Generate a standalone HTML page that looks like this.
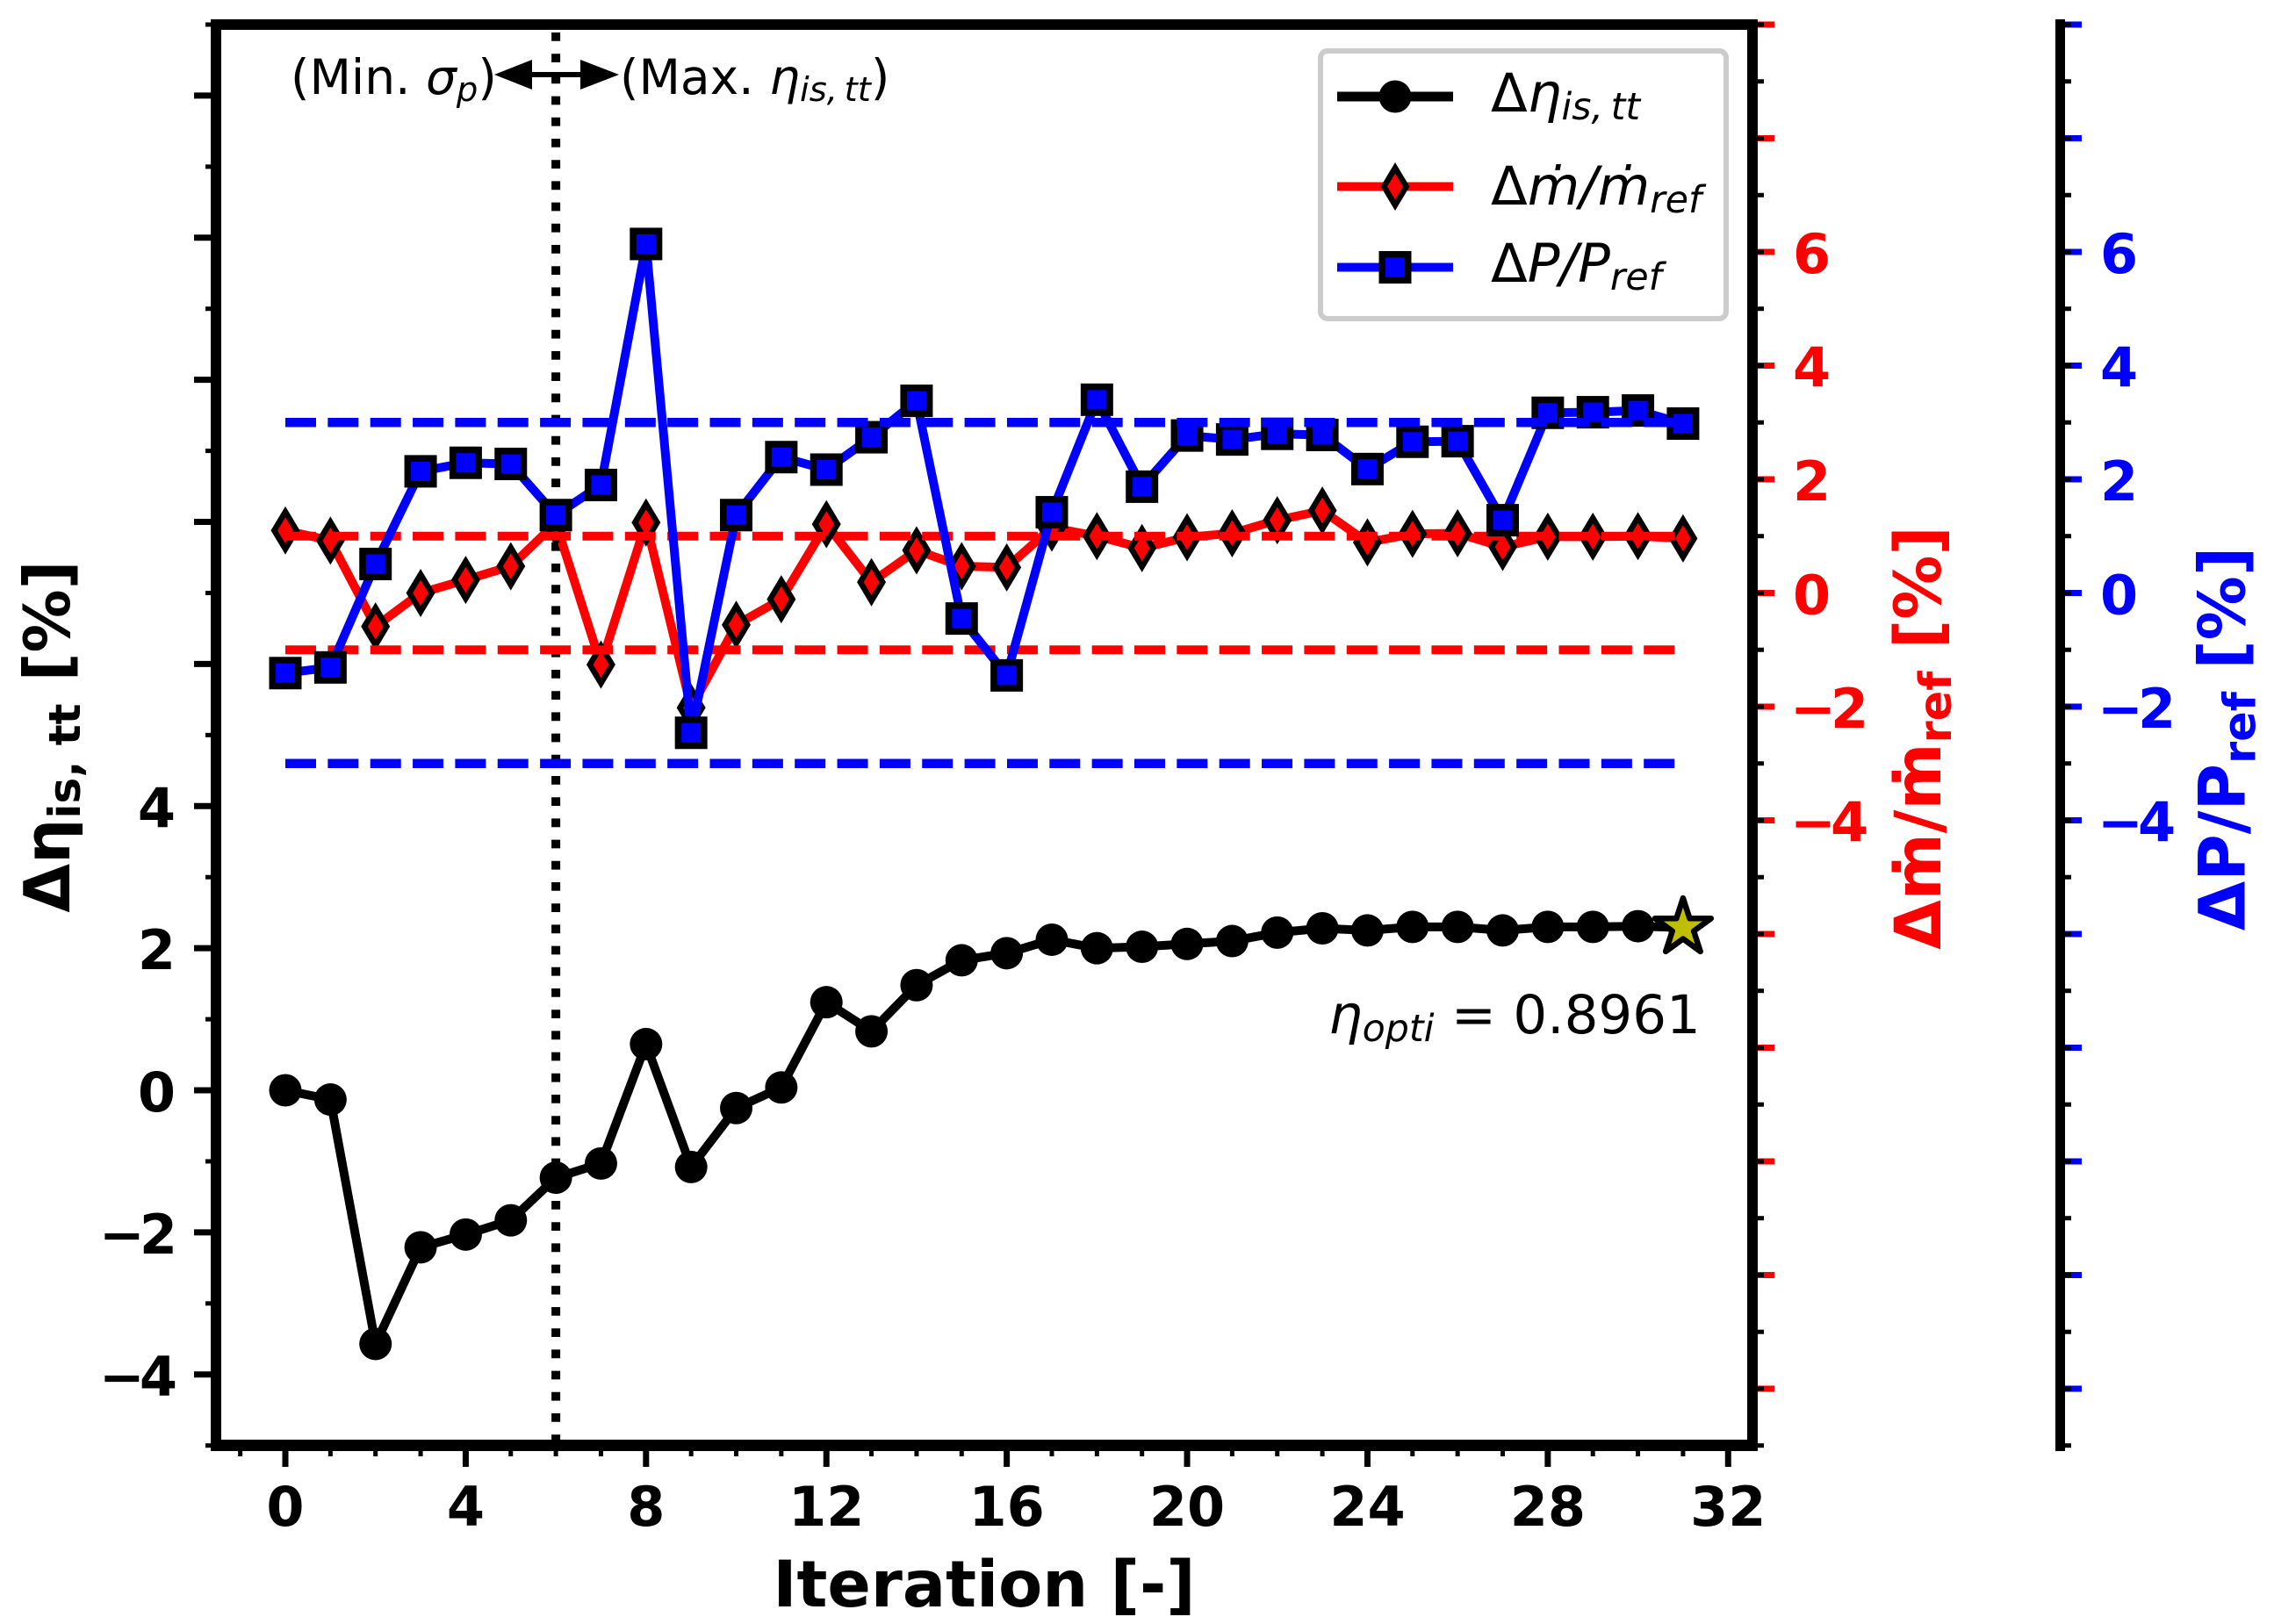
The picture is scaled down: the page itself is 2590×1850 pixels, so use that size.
<!DOCTYPE html>
<html lang="en">
<head>
<meta charset="utf-8">
<title>Optimisation history</title>
<style>
html,body{margin:0;padding:0;background:#fff;}
svg{display:block;}
text{font-family:"DejaVu Sans","Liberation Sans",sans-serif;white-space:pre;}
.b{font-weight:bold;}
.i{font-style:italic;}
</style>
</head>
<body>
<svg id="chart" xmlns="http://www.w3.org/2000/svg" width="2590" height="1850" viewBox="0 0 2590 1850">
  <rect x="0" y="0" width="2590" height="1850" fill="#ffffff"/>
  <g id="ticks"></g>
  <g id="plot"></g>
  <g id="spines">
    <rect x="240" y="22" width="12" height="1631" fill="#000"/>
    <rect x="240" y="22" width="1762" height="12" fill="#000"/>
    <rect x="240" y="1640" width="1762" height="13" fill="#000"/>
    <rect x="1990" y="22" width="12" height="1631" fill="#000"/>
    <rect x="2341" y="22" width="11" height="1631" fill="#000"/>
  </g>

  <text class="b" x="1121" y="1830" font-size="73" text-anchor="middle" fill="#000">Iteration [-]</text>
  <text class="b" transform="translate(79,839) rotate(-90)" font-size="72" text-anchor="middle" fill="#000">Δη<tspan font-size="50" dy="12">is, tt</tspan><tspan dy="-12"> [%]</tspan></text>
  <text class="b" transform="translate(2210,840.5) rotate(-90)" font-size="73" text-anchor="middle" fill="#ff0000">Δṁ/ṁ<tspan font-size="51" dy="12">ref</tspan><tspan dy="-12"> [%]</tspan></text>
  <text class="b" transform="translate(2556.5,841.5) rotate(-90)" font-size="73" text-anchor="middle" fill="#0000ff">ΔP/P<tspan font-size="51" dy="12">ref</tspan><tspan dy="-12"> [%]</tspan></text>

  <text x="331" y="107" font-size="55" fill="#000">(Min. <tspan class="i">σ</tspan><tspan class="i" font-size="38.5" dy="8">p</tspan><tspan dy="-8">)</tspan></text>
  <text x="706" y="107" font-size="55" fill="#000">(Max. <tspan class="i">η</tspan><tspan class="i" font-size="38.5" dy="8">is,&#8201;tt</tspan><tspan dy="-8">)</tspan></text>
  <g>
    <rect x="600" y="82" width="68" height="6" fill="#000"/>
    <polygon points="563,85 606,68 606,102" fill="#000"/>
    <polygon points="705,85 661,68 661,102" fill="#000"/>
  </g>
  <text x="1513" y="1177" font-size="61" fill="#000"><tspan class="i">η</tspan><tspan class="i" font-size="42.7" dy="9">opti</tspan><tspan dy="-9"> = 0.8961</tspan></text>

  <g>
    <rect x="1504" y="58" width="462" height="305" rx="8" ry="8" fill="#ffffff" stroke="#cccccc" stroke-width="6"/>
    <g>
      <line x1="1523" x2="1655" y1="110" y2="110" stroke="#000" stroke-width="11"/>
      <circle cx="1589" cy="110" r="18.5" fill="#000"/>
      <text x="1698" y="127" font-size="61" fill="#000">Δ<tspan class="i">η</tspan><tspan class="i" font-size="42.7" dy="9">is,&#8201;tt</tspan></text>
    </g>
    <g>
      <line x1="1523" x2="1655" y1="212.5" y2="212.5" stroke="#ff0000" stroke-width="10"/>
      <polygon points="1589,191.3 1601.7,212.5 1589,233.7 1576.3,212.5" fill="#ff0000" stroke="#000" stroke-width="6.5" stroke-miterlimit="20"/>
      <text x="1698" y="233" font-size="61" fill="#000">Δ<tspan class="i">ṁ/ṁ</tspan><tspan class="i" font-size="42.7" dy="9">ref</tspan></text>
    </g>
    <g>
      <line x1="1523" x2="1655" y1="304.5" y2="304.5" stroke="#0000ff" stroke-width="10"/>
      <rect x="1574.25" y="289.75" width="29.5" height="29.5" fill="#0000ff" stroke="#000" stroke-width="7.5"/>
      <text x="1698" y="321" font-size="61" fill="#000">Δ<tspan class="i">P/P</tspan><tspan class="i" font-size="42.7" dy="9">ref</tspan></text>
    </g>
  </g>
</svg>

<script>
// Chart data
const iterations = [0,1,2,3,4,5,6,7,8,9,10,11,12,13,14,15,16,17,18,19,20,21,22,23,24,25,26,27,28,29,30,31];
const efficiencySeries = [0,-0.13,-3.57,-2.21,-2.03,-1.83,-1.23,-1.03,0.65,-1.08,-0.25,0.04,1.24,0.83,1.48,1.83,1.93,2.12,2.0,2.02,2.06,2.1,2.22,2.28,2.25,2.3,2.3,2.25,2.3,2.3,2.31];
const massFlowSeries = [1.10,0.92,-0.59,0.0,0.23,0.47,1.23,-1.26,1.24,-2.02,-0.56,-0.11,1.21,0.19,0.75,0.47,0.45,1.15,1.0,0.79,0.98,1.05,1.28,1.45,0.89,1.04,1.05,0.81,0.99,0.99,1.0,0.96];
const powerSeries = [-1.41,-1.31,0.51,2.14,2.29,2.27,1.37,1.9,6.14,-2.46,1.37,2.39,2.17,2.74,3.38,-0.45,-1.45,1.42,3.4,1.87,2.77,2.7,2.8,2.78,2.18,2.66,2.67,1.28,3.17,3.18,3.21,2.98];
const optimumPoint = [31, 2.29];
const massFlowLimits = [1, -1];
const powerLimits = [3, -3];
const limitRange = [0, 31];
const switchIteration = 6;

// Axis ticks and labels
const xMajorTicks = [0,4,8,12,16,20,24,28,32];
const xMinorTicks = [-1,0,1,2,3,4,5,6,7,8,9,10,11,12,13,14,15,16,17,18,19,20,21,22,23,24,25,26,27,28,29,30,31,32];
const leftMajorTicks = [-4,-2,0,2,4,6,8,10,12,14];
const leftMinorTicks = [-5,-3,-1,1,3,5,7,9,11,13,15];
const leftTickLabels = [-4,-2,0,2,4];
const rightMajorTicks = [-14,-12,-10,-8,-6,-4,-2,0,2,4,6,8,10];
const rightMinorTicks = [-15,-14,-13,-12,-11,-10,-9,-8,-7,-6,-5,-4,-3,-2,-1,0,1,2,3,4,5,6,7,8,9,10];
const rightTickLabels = [-4,-2,0,2,4,6];

// Axis functions
const xDomain = [-1.5385, 32.54];
const xPixels = [246, 1996];
const leftDomain = [-5, 15];
const rightDomain = [-15, 10];
const yPixels = [1646.7, 28];
function xAxis(v){ return xPixels[0] + (v - xDomain[0]) * (xPixels[1] - xPixels[0]) / (xDomain[1] - xDomain[0]); }
function yLeft(v){ return yPixels[0] + (v - leftDomain[0]) * (yPixels[1] - yPixels[0]) / (leftDomain[1] - leftDomain[0]); }
function yRight(v){ return yPixels[0] + (v - rightDomain[0]) * (yPixels[1] - yPixels[0]) / (rightDomain[1] - rightDomain[0]); }

const NS = 'http://www.w3.org/2000/svg';
function make(parent, tag, attrs){
  const el = document.createElementNS(NS, tag);
  for (const k in attrs) el.setAttribute(k, attrs[k]);
  parent.appendChild(el);
  return el;
}
function fmt(v){ return String(v).replace('-', '\u2212'); }
function pointsOf(xs, ys, yFn){
  const out = [];
  for (let i = 0; i < ys.length; i++) out.push(xAxis(xs[i]).toFixed(2) + ',' + yFn(ys[i]).toFixed(2));
  return out.join(' ');
}

const ticks = document.getElementById('ticks');
const plot = document.getElementById('plot');

// x ticks
xMajorTicks.forEach(function(v){
  const t = make(ticks, 'line', {x1:xAxis(v), x2:xAxis(v), y1:1650, y2:1671, stroke:'#000', 'stroke-width':7});
  
  
  const l = make(ticks, 'text', {x:xAxis(v), y:1738, 'font-size':62, 'font-weight':'bold', 'text-anchor':'middle', fill:'#000'});
  
  
  l.textContent = fmt(v);
});
xMinorTicks.forEach(function(v){
  const t = make(ticks, 'line', {x1:xAxis(v), x2:xAxis(v), y1:1650, y2:1659, stroke:'#000', 'stroke-width':5});
  
  
});

// left y ticks
leftMajorTicks.forEach(function(v){
  const t = make(ticks, 'line', {x1:221, x2:245, y1:yLeft(v), y2:yLeft(v), stroke:'#000', 'stroke-width':7});
  
  
});
leftMinorTicks.forEach(function(v){
  const t = make(ticks, 'line', {x1:234, x2:245, y1:yLeft(v), y2:yLeft(v), stroke:'#000', 'stroke-width':5});
  
  
});
leftTickLabels.forEach(function(v){
  const l = make(ticks, 'text', {x:v < 0 ? 196 : 200, y:yLeft(v) + 24, 'font-size':62, 'font-weight':'bold', 'text-anchor':'end', fill:'#000', 'letter-spacing':v < 0 ? -6 : 0});
  
  
  l.textContent = fmt(v);
});

// mass-flow axis ticks
rightMajorTicks.forEach(function(v){
  const t = make(ticks, 'line', {x1:1998, x2:2021, y1:yRight(v), y2:yRight(v), stroke:'#ff0000', 'stroke-width':7});
  
  
});
rightMinorTicks.forEach(function(v){
  const t = make(ticks, 'line', {x1:1998, x2:2009, y1:yRight(v), y2:yRight(v), stroke:'#000', 'stroke-width':5});
  
  
});
rightTickLabels.forEach(function(v){
  const l = make(ticks, 'text', {x:v < 0 ? 2039 : 2042, y:yRight(v) + 24, 'font-size':62, 'font-weight':'bold', fill:'#ff0000', 'letter-spacing':v < 0 ? -6 : 0});
  
  
  l.textContent = fmt(v);
});

// power axis ticks
rightMajorTicks.forEach(function(v){
  const t = make(ticks, 'line', {x1:2348, x2:2371, y1:yRight(v), y2:yRight(v), stroke:'#0000ff', 'stroke-width':7});
  
  
});
rightMinorTicks.forEach(function(v){
  const t = make(ticks, 'line', {x1:2348, x2:2359, y1:yRight(v), y2:yRight(v), stroke:'#000', 'stroke-width':5});
  
  
});
rightTickLabels.forEach(function(v){
  const l = make(ticks, 'text', {x:v < 0 ? 2389 : 2392, y:yRight(v) + 24, 'font-size':62, 'font-weight':'bold', fill:'#0000ff', 'letter-spacing':v < 0 ? -6 : 0});
  
  
  l.textContent = fmt(v);
});

// switch marker (dotted vertical line)
const switchLine = make(plot, 'line', {x1:xAxis(switchIteration), x2:xAxis(switchIteration), y1:37, y2:1640, stroke:'#000', 'stroke-width':10, 'stroke-dasharray':'9.8 14.4'});



// efficiency series
const effLine = make(plot, 'polyline', {points:pointsOf(iterations, efficiencySeries, yLeft), fill:'none', stroke:'#000', 'stroke-width':10, 'stroke-linejoin':'round'});


const effToStar = make(plot, 'line', {
  x1:xAxis(iterations[efficiencySeries.length - 1]),
  y1:yLeft(efficiencySeries[efficiencySeries.length - 1]),
  x2:xAxis(optimumPoint[0]),
  y2:yLeft(optimumPoint[1]),
  stroke:'#000', 'stroke-width':10
});


efficiencySeries.forEach(function(v, i){
  const c = make(plot, 'circle', {cx:xAxis(iterations[i]), cy:yLeft(v), r:18.5, fill:'#000'});
  
  
});
// optimum star marker
(function(){
  const cx = xAxis(optimumPoint[0]), cy = yLeft(optimumPoint[1]), R = 33.6, r = R * 0.381966;
  const pts = [];
  for (let k = 0; k < 10; k++){
    const rad = k % 2 ? r : R;
    const a = -Math.PI / 2 + k * Math.PI / 5;
    pts.push((cx + rad * Math.cos(a)).toFixed(2) + ',' + (cy + rad * Math.sin(a)).toFixed(2));
  }
  const s = make(plot, 'polygon', {points:pts.join(' '), fill:'#bfbf00', stroke:'#000', 'stroke-width':6.5, 'stroke-linejoin':'round'});
  
  
})();

// mass-flow series
const massLine = make(plot, 'polyline', {points:pointsOf(iterations, massFlowSeries, yRight), fill:'none', stroke:'#ff0000', 'stroke-width':10, 'stroke-linejoin':'round'});


massFlowSeries.forEach(function(v, i){
  const x = xAxis(iterations[i]), y = yRight(v), a = 12.7, b = 21.2;
  const d = make(plot, 'polygon', {points:[x + ',' + (y - b), (x + a) + ',' + y, x + ',' + (y + b), (x - a) + ',' + y].join(' '), fill:'#ff0000', stroke:'#000', 'stroke-width':6.5, 'stroke-miterlimit':20});
  
  
});
massFlowLimits.forEach(function(v){
  const l = make(plot, 'line', {x1:xAxis(limitRange[0]), x2:xAxis(limitRange[1]), y1:yRight(v), y2:yRight(v), stroke:'#ff0000', 'stroke-width':10, 'stroke-dasharray':'35 13.35'});
  
  
});

// power series
const powerLine = make(plot, 'polyline', {points:pointsOf(iterations, powerSeries, yRight), fill:'none', stroke:'#0000ff', 'stroke-width':10, 'stroke-linejoin':'round'});


powerSeries.forEach(function(v, i){
  const s = make(plot, 'rect', {x:xAxis(iterations[i]) - 14.75, y:yRight(v) - 14.75, width:29.5, height:29.5, fill:'#0000ff', stroke:'#000', 'stroke-width':7.5});
  
  
});
powerLimits.forEach(function(v){
  const l = make(plot, 'line', {x1:xAxis(limitRange[0]), x2:xAxis(limitRange[1]), y1:yRight(v), y2:yRight(v), stroke:'#0000ff', 'stroke-width':10.5, 'stroke-dasharray':'35 13.35'});
  
  
});
</script>
</body>
</html>
